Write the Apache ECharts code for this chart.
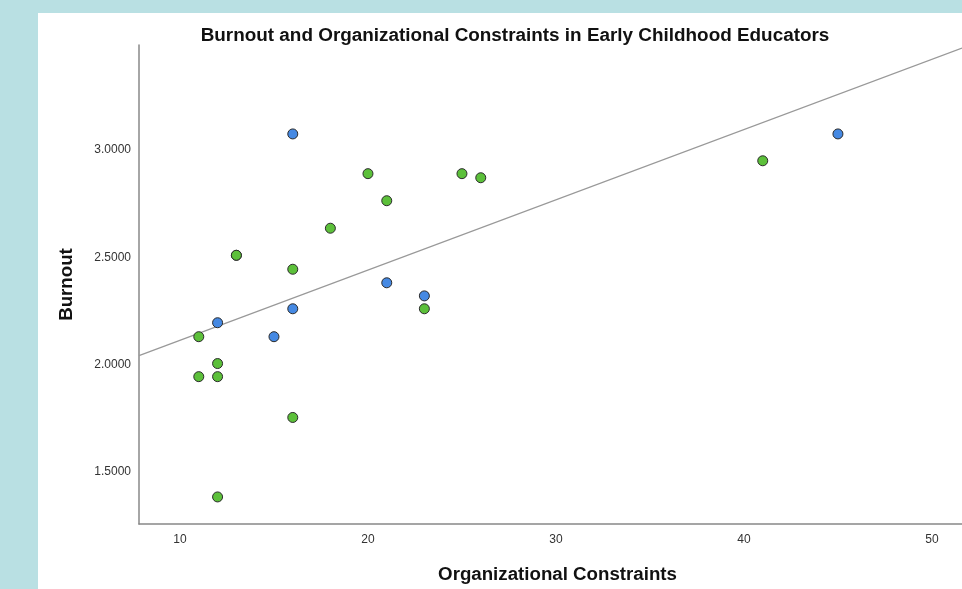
<!DOCTYPE html>
<html><head><meta charset="utf-8">
<script src="https://cdn.jsdelivr.net/npm/echarts@6/dist/echarts.min.js"></script>
<style>html,body{margin:0;padding:0;background:#b9e0e3}#c{width:962px;height:589px}</style>
</head><body><div id="c"></div>
<script>
const titleText = "Burnout and Organizational Constraints in Early Childhood Educators";
const xName = "Organizational Constraints";
const yName = "Burnout";
const xTicks = [10, 20, 30, 40, 50];
const yTicks = [1.5, 2.0, 2.5, 3.0];
const blueX = [16, 45, 12, 15, 16, 21, 23];
const blueY = [3.074, 3.074, 2.195, 2.13, 2.26, 2.381, 2.32];
const greenX = [13, 13, 11, 12, 11, 12, 16, 12, 16, 18, 20, 21, 25, 26, 23, 41];
const greenY = [2.509, 2.509, 2.13, 2.005, 1.944, 1.944, 1.754, 1.384, 2.444, 2.635, 2.889, 2.763, 2.889, 2.87, 2.26, 2.949];
const fitX = [7.82, 51.6];
const fitY = [2.042, 3.474];

const zip = (a, b) => a.map((v, i) => [v, b[i]]);
const chart = echarts.init(document.getElementById('c'), null, {renderer: 'canvas'});
const font = "'Liberation Sans', Arial, sans-serif";
chart.setOption({
  backgroundColor: '#b9e0e3',
  animation: false,
  graphic: [{type: 'rect', z: -10, shape: {x: 38, y: 13, width: 1000, height: 700}, style: {fill: '#ffffff'}}],
  title: {text: titleText, left: 510, top: 21, textAlign: 'center',
    textStyle: {fontFamily: font, fontSize: 18.9, fontWeight: 'bold', color: '#111'}},
  grid: {left: 139, top: 45, right: 0, bottom: 61},
  xAxis: {type: 'value', min: 7.82, max: 51.6, interval: 10,
    name: xName, nameLocation: 'middle', nameGap: 41,
    nameTextStyle: {fontFamily: font, fontSize: 18.7, fontWeight: 'bold', color: '#111', padding: [0, 0, 0, 14]},
    axisLine: {show: true, lineStyle: {color: '#888', width: 1.5}},
    axisTick: {show: false}, splitLine: {show: false},
    axisLabel: {fontFamily: font, fontSize: 12, color: '#333', margin: 10,
      customValues: xTicks}
  },
  yAxis: {type: 'value', min: 1.258, max: 3.488,
    name: yName, nameLocation: 'middle', nameGap: 63,
    nameTextStyle: {fontFamily: font, fontSize: 18.7, fontWeight: 'bold', color: '#111'},
    axisLine: {show: true, lineStyle: {color: '#888', width: 1.5}},
    axisTick: {show: false}, splitLine: {show: false},
    axisLabel: {fontFamily: font, fontSize: 12, color: '#333', margin: 8,
      customValues: yTicks, formatter: v => v.toFixed(4)}
  },
  series: [
    {type: 'line', data: zip(fitX, fitY), symbol: 'none', silent: true,
      lineStyle: {color: '#999', width: 1.3}, z: 1},
    {type: 'scatter', data: zip(greenX, greenY), symbolSize: 10,
      itemStyle: {color: '#5cc03a', borderColor: '#2b2b2b', borderWidth: 1, opacity: 1}, z: 3},
    {type: 'scatter', data: zip(blueX, blueY), symbolSize: 10,
      itemStyle: {color: '#4589e3', borderColor: '#2b2b2b', borderWidth: 1, opacity: 1}, z: 3}
  ]
});
</script></body></html>
